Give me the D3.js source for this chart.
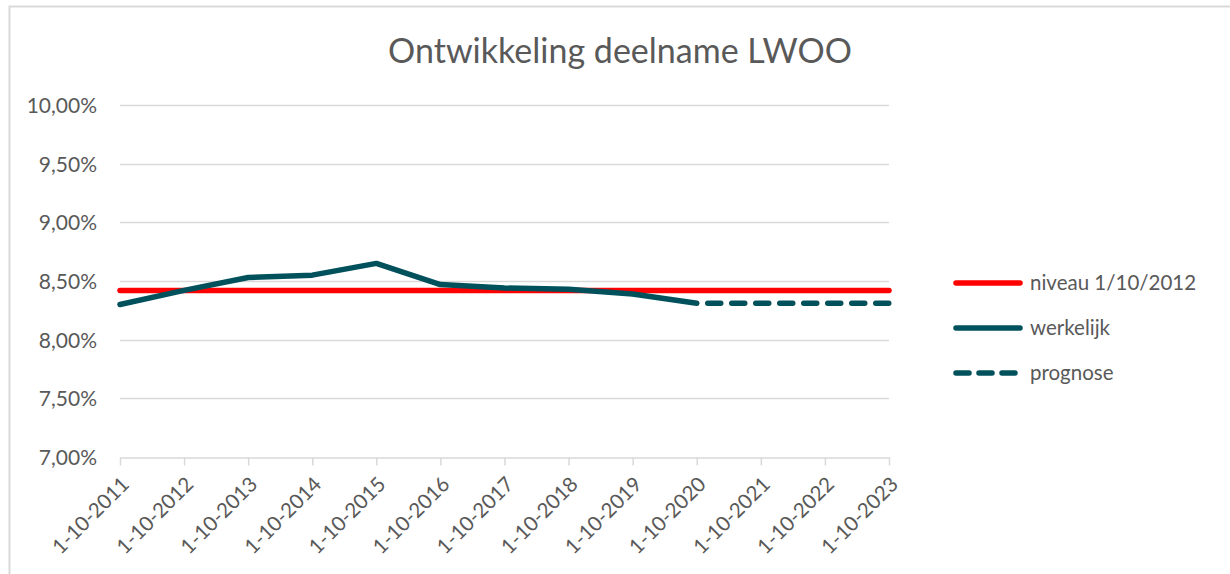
<!DOCTYPE html>
<html>
<head>
<meta charset="utf-8">
<script src="https://cdn.jsdelivr.net/npm/d3@7"></script>
<style>
  html, body { margin: 0; padding: 0; background: #fff; }
  svg { display: block; }
  text { font-family: Lato, "Open Sans", sans-serif; fill: #595959; }
</style>
</head>
<body>
<svg id="chart" width="1230" height="574"></svg>
<script>
const title = "Ontwikkeling deelname LWOO";
const categories = ["1-10-2011","1-10-2012","1-10-2013","1-10-2014","1-10-2015","1-10-2016","1-10-2017","1-10-2018","1-10-2019","1-10-2020","1-10-2021","1-10-2022","1-10-2023"];
const werkelijk = [8.30, 8.42, 8.53, 8.55, 8.65, 8.47, 8.44, 8.43, 8.39, 8.31, null, null, null];
const prognose = [null, null, null, null, null, null, null, null, null, 8.31, 8.31, 8.31, 8.31];
const niveau = [8.42, 8.42, 8.42, 8.42, 8.42, 8.42, 8.42, 8.42, 8.42, 8.42, 8.42, 8.42, 8.42];
const yTicks = [7.0, 7.5, 8.0, 8.5, 9.0, 9.5, 10.0];
const legendLabels = ["niveau 1/10/2012", "werkelijk", "prognose"];

const svg = d3.select("#chart");
const red = "#FF0000", teal = "#00515B", grid = "#D9D9D9";
const fontFam = "Lato, 'Open Sans', sans-serif";

// chart frame
svg.append("path").attr("d", "M9.5,574 L9.5,6.5 L1230,6.5")
  .attr("fill", "none").attr("stroke", grid).attr("stroke-width", 2);

const x = d3.scalePoint().domain(categories).range([120, 889]);
const y = d3.scaleLinear().domain([7, 10]).range([457, 105]);

// gridlines
svg.append("g").selectAll("line").data(yTicks.slice(1)).join("line")
  .attr("x1", 120).attr("x2", 889)
  .attr("y1", d => Math.round(y(d)) + 0.5).attr("y2", d => Math.round(y(d)) + 0.5)
  .attr("stroke", grid).attr("stroke-width", 1.3);

// y axis labels
const yAxis = d3.axisLeft(y).tickValues(yTicks).tickSize(0).tickPadding(0)
  .tickFormat(d => d3.format(".2f")(d).replace(".", ",") + "%");
const gy = svg.append("g").attr("transform", "translate(97,0)").call(yAxis);
gy.select(".domain").remove();
gy.selectAll("text").attr("font-size", 21).attr("fill", "#595959")
  .style("font-family", fontFam).attr("dy", "0.35em");

// x axis
const xAxis = d3.axisBottom(x).tickSize(8).tickSizeOuter(0);
const gx = svg.append("g").attr("transform", `translate(0,${Math.round(y(7)) + 0.5})`).call(xAxis);
gx.select(".domain").attr("stroke", grid).attr("stroke-width", 1.5);
gx.selectAll(".tick line").attr("stroke", grid).attr("stroke-width", 1.5);
gx.selectAll("text")
  .attr("font-size", 20.5).attr("fill", "#595959")
  .style("font-family", fontFam)
  .attr("text-anchor", "end")
  .attr("dy", null).attr("y", 0)
  .attr("transform", "translate(10,28) rotate(-45)");

// lines
const line = d3.line().defined(d => d.v != null).x(d => x(d.c)).y(d => y(d.v));
const toPts = arr => categories.map((c, i) => ({c, v: arr[i]}));

svg.append("path").datum(toPts(niveau)).attr("d", line)
  .attr("fill", "none").attr("stroke", red).attr("stroke-width", 5.5)
  .attr("stroke-linecap", "round").attr("stroke-linejoin", "round");
svg.append("path").datum(toPts(prognose)).attr("d", line)
  .attr("fill", "none").attr("stroke", teal).attr("stroke-width", 5.5)
  .attr("stroke-dasharray", "13,11").attr("stroke-dashoffset", -11)
  .attr("stroke-linecap", "round");
svg.append("path").datum(toPts(werkelijk)).attr("d", line)
  .attr("fill", "none").attr("stroke", teal).attr("stroke-width", 5.5)
  .attr("stroke-linecap", "round").attr("stroke-linejoin", "round");

// title
svg.append("text").attr("x", 620).attr("y", 63).attr("text-anchor", "middle")
  .attr("font-size", 34).text(title);

// legend
const legStyles = [
  {color: red, dash: null},
  {color: teal, dash: null},
  {color: teal, dash: "13,10"}
];
const leg = svg.append("g").selectAll("g").data(legendLabels).join("g")
  .attr("transform", (d, i) => `translate(0,${283 + i * 45})`);
leg.append("line").attr("x1", 956).attr("x2", 1020).attr("y1", 0).attr("y2", 0)
  .attr("stroke", (d, i) => legStyles[i].color).attr("stroke-width", 5.5)
  .attr("stroke-linecap", "round")
  .attr("stroke-dasharray", (d, i) => legStyles[i].dash);
leg.append("text").attr("x", 1030).attr("y", 0).attr("dy", "0.35em")
  .attr("font-size", 20.5).text(d => d);
</script>
</body>
</html>
